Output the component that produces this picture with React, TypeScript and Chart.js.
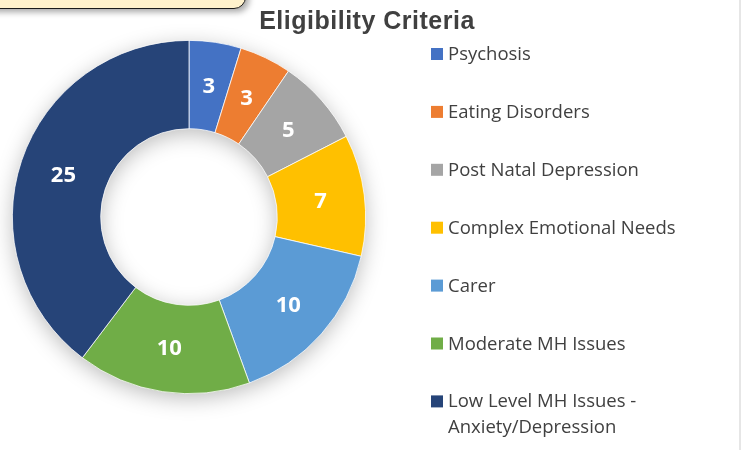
import React, { useEffect, useRef } from "react";
import { Chart, registerables } from "chart.js";

Chart.register(...registerables);

const categories = [
  "Psychosis",
  "Eating Disorders",
  "Post Natal Depression",
  "Complex Emotional Needs",
  "Carer",
  "Moderate MH Issues",
  "Low Level MH Issues - Anxiety/Depression",
];
const counts = [3, 3, 5, 7, 10, 10, 25];
const sliceColors = ["#4472C4", "#ED7D31", "#A5A5A5", "#FFC000", "#5B9BD5", "#70AD47", "#264478"];
const chartTitle = "Eligibility Criteria";

const ringShadow = {
  id: "ringShadow",
  beforeDatasetsDraw(chart: any) {
    const meta = chart.getDatasetMeta(0);
    const el = meta.data[0];
    if (!el) return;
    const { x, y, outerRadius, innerRadius } = el;
    const ctx = chart.ctx;
    ctx.save();
    ctx.shadowColor = "rgba(0,0,0,0.28)";
    ctx.shadowBlur = 22;
    ctx.shadowOffsetX = 0;
    ctx.shadowOffsetY = 5;
    ctx.beginPath();
    ctx.arc(x, y, outerRadius - 1, 0, Math.PI * 2);
    ctx.arc(x, y, innerRadius + 1, 0, Math.PI * 2, true);
    ctx.closePath();
    ctx.fillStyle = "#ffffff";
    ctx.fill();
    ctx.restore();
  },
};

const sliceLabels = {
  id: "sliceLabels",
  afterDatasetsDraw(chart: any) {
    const ctx = chart.ctx;
    const meta = chart.getDatasetMeta(0);
    const data = chart.data.datasets[0].data;
    ctx.save();
    ctx.fillStyle = "#ffffff";
    ctx.font = "bold 22px 'Open Sans'";
    ctx.textAlign = "center";
    ctx.textBaseline = "middle";
    meta.data.forEach((arc: any, i: number) => {
      const p = arc.tooltipPosition();
      ctx.fillText(String(data[i]), p.x, p.y + 1);
    });
    ctx.restore();
  },
};

const customLegend = {
  id: "customLegend",
  afterDraw(chart: any) {
    const ctx = chart.ctx;
    const labels = chart.data.labels as string[];
    const colors = chart.data.datasets[0].backgroundColor as string[];
    ctx.save();
    // title
    ctx.font = "bold 25px 'Liberation Sans'";
    (ctx as any).letterSpacing = "0.5px";
    ctx.fillStyle = "#404040";
    ctx.textAlign = "center";
    ctx.textBaseline = "alphabetic";
    ctx.fillText(chartTitle, 367, 29);
    (ctx as any).letterSpacing = "0px";
    // legend
    ctx.font = "18.5px 'Open Sans'";
    ctx.textAlign = "left";
    const boxX = 431;
    const textX = 448;
    const maxW = 260;
    let baseY = 60;
    labels.forEach((lab, i) => {
      const words = lab.split(" ");
      const lines: string[] = [];
      let cur = "";
      words.forEach((w) => {
        const test = cur ? cur + " " + w : w;
        if (ctx.measureText(test).width > maxW && cur) {
          lines.push(cur);
          cur = w;
        } else cur = test;
      });
      if (cur) lines.push(cur);
      ctx.fillStyle = colors[i];
      ctx.fillRect(boxX, baseY - 12, 12, 12);
      ctx.fillStyle = "#404040";
      lines.forEach((ln, j) => ctx.fillText(ln, textX, baseY + j * 26));
      baseY += 57.9;
    });
    ctx.restore();
  },
};

export default function App() {
  const ref = useRef<HTMLCanvasElement>(null);
  useEffect(() => {
    if (!ref.current) return;
    const chart = new Chart(ref.current, {
      type: "doughnut",
      data: {
        labels: categories,
        datasets: [
          {
            data: counts,
            backgroundColor: sliceColors,
            borderColor: "#ffffff",
            borderWidth: 0.75,
          },
        ],
      },
      options: {
        animation: false,
        responsive: false,
        cutout: "50%",
        layout: { padding: { left: 12, top: 40, right: 375, bottom: 56 } },
        plugins: {
          legend: { display: false },
          title: { display: false },
          tooltip: { enabled: false },
        },
      },
      plugins: [ringShadow, sliceLabels, customLegend],
    });
    return () => chart.destroy();
  }, []);
  return (
    <div
      style={{
        position: "fixed",
        left: 0,
        top: 0,
        width: 741,
        height: 450,
        background: "#ffffff",
        overflow: "hidden",
      }}
    >
      <canvas ref={ref} width={741} height={450} style={{ position: "absolute", left: 0, top: 0 }} />
      <div
        style={{
          position: "absolute",
          left: -20,
          top: -40,
          width: 264,
          height: 47,
          background: "#FFF2CC",
          border: "1.5px solid #1a1a1a",
          borderRadius: 12,
          boxShadow: "3px 3px 6px rgba(0,0,0,0.35)",
        }}
      />
      <div
        style={{
          position: "absolute",
          left: 739,
          top: 0,
          width: 2,
          height: 450,
          background: "#e6e6e6",
        }}
      />
    </div>
  );
}
